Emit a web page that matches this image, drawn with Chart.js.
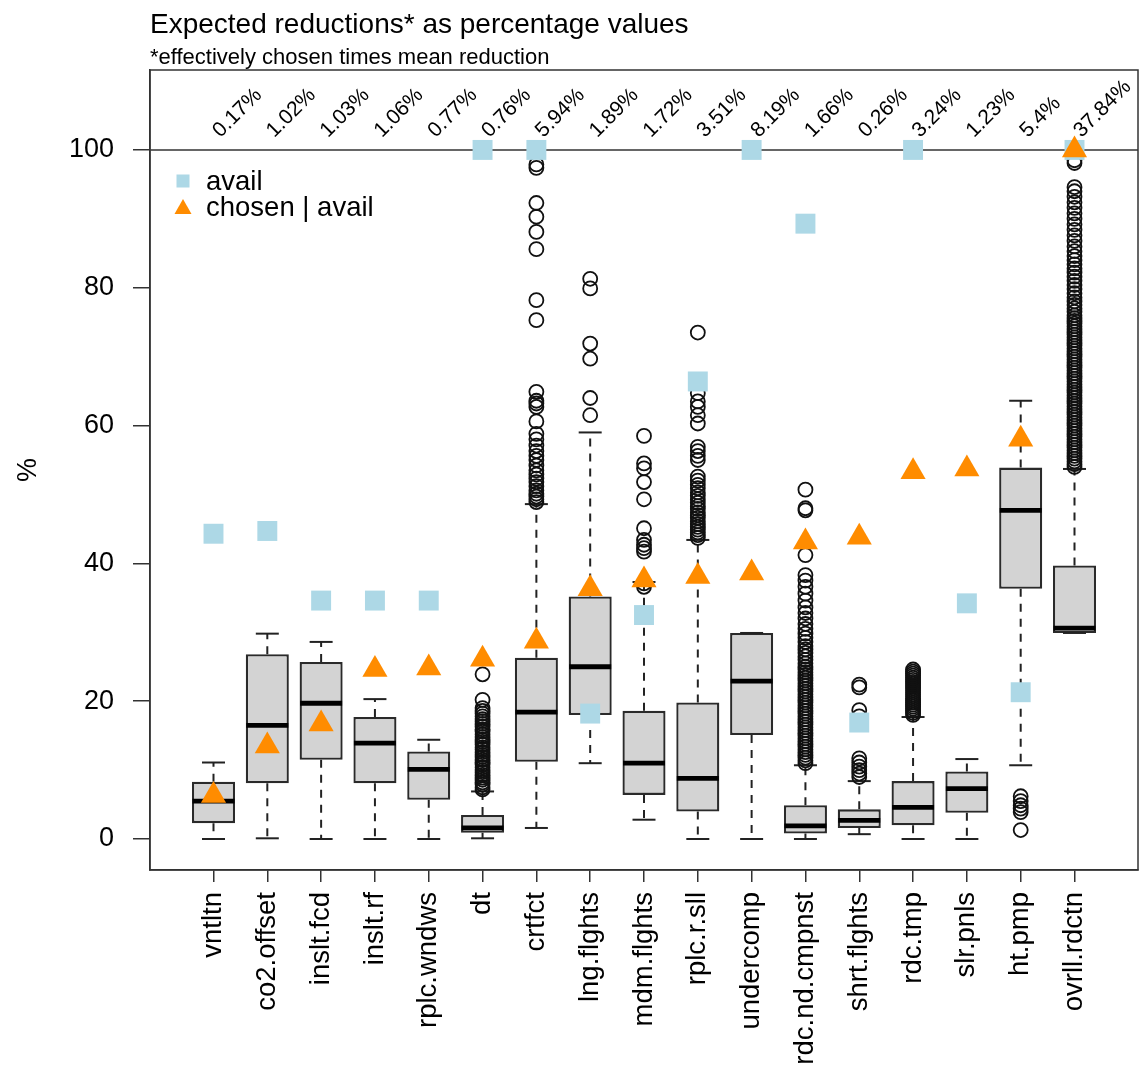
<!DOCTYPE html>
<html>
<head>
<meta charset="utf-8">
<script src="https://cdn.jsdelivr.net/npm/chart.js@4.4.1/dist/chart.umd.min.js"></script>
<style>
  html, body { margin: 0; padding: 0; background: #fff; overflow: hidden; }
  #wrap { width: 1144px; height: 1081px; position: relative; }
  #chart { display: block; }
</style>
</head>
<body>
<div id="wrap"><canvas id="chart"></canvas></div>
<script>
// DATA
const categories = ["vntltn", "co2.offset", "inslt.fcd", "inslt.rf", "rplc.wndws", "dt", "crtfct",
  "lng.flghts", "mdm.flghts", "rplc.r.sll", "undercomp", "rdc.nd.cmpnst", "shrt.flghts",
  "rdc.tmp", "slr.pnls", "ht.pmp", "ovrll.rdctn"];

const whiskLo = [0, 0.1, 0, 0, 0, 0.1, 1.6, 11.0, 2.8, 0, 0, 0, 0.7, 0, 0, 10.7, 29.9];
const q1      = [2.3, 8.1, 11.5, 8.1, 5.7, 0.9, 11.2, 18.0, 6.4, 4.0, 15.1, 0.8, 1.6, 2.0, 3.8, 36.3, 29.9];
const median  = [5.5, 16.5, 19.7, 13.9, 10.1, 1.6, 18.4, 25.0, 11.0, 8.8, 22.9, 1.9, 2.7, 4.6, 7.3, 47.7, 30.6];
const q3      = [8.3, 26.8, 25.7, 17.7, 12.7, 3.5, 26.3, 35.2, 18.6, 19.8, 29.9, 4.9, 4.3, 8.4, 9.8, 53.9, 39.7];
const whiskHi = [11.1, 29.8, 28.6, 20.3, 14.4, 6.9, 48.6, 59.0, 37.3, 43.4, 29.9, 10.7, 8.4, 17.7, 11.6, 63.6, 53.7];

const outliers = [
  [], [], [], [], [],
  [7.2, 7.5, 7.9, 8.2, 8.6, 8.9, 9.3, 9.7, 10.0, 10.4, 10.8, 11.1, 11.5, 11.9, 12.2, 12.6, 13.0, 13.3,
   13.7, 14.1, 14.4, 14.8, 15.2, 15.6, 15.9, 16.3, 16.7, 17.1, 17.4, 17.8, 18.2, 18.6, 19.0, 20.2, 23.9],
  [48.9, 49.3, 49.7, 50.1, 50.6, 51.2, 51.8, 52.3, 52.9, 53.5, 54.2, 55.0, 55.6, 56.3, 57.1, 58.0, 58.8,
   60.6, 62.7, 63.2, 63.6, 64.9, 75.3, 78.2, 85.6, 88.1, 90.3, 92.3, 97.4, 97.9],
  [61.5, 64.0, 69.7, 71.9, 79.9, 81.3],
  [36.6, 37.1, 41.7, 42.2, 42.7, 43.4, 45.1, 49.3, 51.8, 53.8, 54.5, 58.5],
  [43.7, 44.1, 44.5, 44.9, 45.3, 45.7, 46.1, 46.6, 47.0, 47.4, 47.9, 48.3, 48.8, 49.3, 49.8, 50.3, 50.9,
   51.4, 52.0, 52.6, 55.0, 55.6, 56.3, 56.9, 60.3, 61.5, 62.7, 63.5, 64.7, 73.5],
  [],
  [11.0, 11.4, 11.8, 12.2, 12.6, 13.0, 13.4, 13.8, 14.2, 14.6, 15.0, 15.4, 15.8, 16.2, 16.6, 17.0, 17.4,
   17.8, 18.2, 18.6, 19.0, 19.4, 19.8, 20.2, 20.6, 21.0, 21.4, 21.8, 22.2, 22.6, 23.0, 23.4, 23.8, 24.2,
   24.6, 25.0, 25.5, 26.0, 26.5, 27.0, 27.5, 28.0, 28.6, 29.2, 29.8, 30.5, 31.2, 32.0, 32.8, 33.6, 34.6,
   35.6, 36.6, 37.5, 38.3, 41.2, 47.7, 48.0, 50.7],
  [9.0, 9.5, 10.0, 10.5, 11.1, 11.7, 17.8, 18.7, 22.0, 22.4],
  [18.0, 18.3, 18.6, 18.9, 19.2, 19.5, 19.8, 20.1, 20.4, 20.7, 21.0, 21.3, 21.6, 21.9, 22.2, 22.5, 22.8,
   23.1, 23.4, 23.7, 24.0, 24.3, 24.6],
  [],
  [1.3, 3.9, 4.4, 4.9, 5.5, 6.2],
  [54.0, 54.4, 54.8, 55.2, 55.6, 56.0, 56.4, 56.8, 57.2, 57.6, 58.0, 58.4, 58.8, 59.2, 59.6, 60.0, 60.4,
   60.8, 61.2, 61.6, 62.0, 62.4, 62.8, 63.2, 63.6, 64.0, 64.4, 64.8, 65.2, 65.6, 66.0, 66.4, 66.8, 67.2,
   67.6, 68.0, 68.4, 68.8, 69.2, 69.6, 70.0, 70.4, 70.8, 71.2, 71.6, 72.0, 72.4, 72.8, 73.2, 73.6, 74.0,
   74.4, 74.8, 75.2, 75.6, 76.0, 76.5, 77.0, 77.5, 78.0, 78.6, 79.2, 79.8, 80.4, 81.0, 81.6, 82.2, 82.8,
   83.4, 84.0, 84.6, 85.3, 86.0, 86.8, 87.6, 88.4, 89.2, 90.0, 90.8, 91.6, 92.4, 93.2, 94.0, 94.6, 98.1, 98.5]
];

const avail  = [44.3, 44.7, 34.6, 34.6, 34.6, 100, 100, 18.2, 32.5, 66.4, 100, 89.3, 16.9, 100, 34.2, 21.3, 100];
const chosen = [6.3, 13.5, 16.7, 24.6, 24.8, 26.1, 28.7, 36.3, 37.6, 38.1, 38.6, 43.1, 43.8, 53.3, 53.7, 58.0, 100];

const effLabels = ["0.17%", "1.02%", "1.03%", "1.06%", "0.77%", "0.76%", "5.94%", "1.89%", "1.72%",
  "3.51%", "8.19%", "1.66%", "0.26%", "3.24%", "1.23%", "5.4%", "37.84%"];

const yTicks = [0, 20, 40, 60, 80, 100];
const refValue = 100;
const labelValue = 101.7;

// axis ranges like R (4% extension)
const xMin = -0.18, xMax = 18.18;
const yMin = -4.5, yMax = 111.6;

const FONT = "'Liberation Sans', Arial, sans-serif";
Chart.defaults.font.family = FONT;
Chart.defaults.color = "#000";

// build datasets
const pos = i => i + 1;
const boxData = categories.map((c, i) => ({ x: pos(i), y: [q1[i], q3[i]] }));
const medData = categories.map((c, i) => ({ x: pos(i), y: median[i] }));
const capData = [];
const whiskData = [];
categories.forEach((c, i) => {
  capData.push({ x: pos(i), y: whiskHi[i] }, { x: pos(i), y: whiskLo[i] });
  whiskData.push(
    { x: pos(i), y: q3[i] }, { x: pos(i), y: whiskHi[i] }, { x: pos(i), y: null },
    { x: pos(i), y: q1[i] }, { x: pos(i), y: whiskLo[i] }, { x: pos(i), y: null }
  );
});
const outData = [];
outliers.forEach((arr, i) => arr.forEach(v => outData.push({ x: pos(i), y: v })));
const availData = avail.map((v, i) => ({ x: pos(i), y: v }));
const chosenData = chosen.map((v, i) => ({ x: pos(i), y: v }));

// text, legend and frame
const decorPlugin = {
  id: "decor",
  afterDatasetsDraw(chart) {
    const { ctx, chartArea, scales } = chart;
    // percentage labels above columns
    ctx.save();
    ctx.beginPath();
    ctx.rect(chartArea.left, chartArea.top, chartArea.right - chartArea.left, chartArea.bottom - chartArea.top);
    ctx.clip();
    ctx.font = "21px " + FONT;
    ctx.fillStyle = "#000";
    ctx.textAlign = "left";
    ctx.textBaseline = "alphabetic";
    effLabels.forEach((t, i) => {
      const px = scales.x.getPixelForValue(pos(i)) + 7;
      const py = scales.y.getPixelForValue(labelValue);
      ctx.save();
      ctx.translate(px, py);
      ctx.rotate(-Math.PI / 4);
      ctx.fillText(t, 0, 0);
      ctx.restore();
    });
    ctx.restore();

    // legend
    ctx.save();
    ctx.fillStyle = "#add8e6";
    ctx.fillRect(176.5, 174.5, 13, 13);
    ctx.fillStyle = "#ff8c00";
    ctx.beginPath();
    ctx.moveTo(183, 199);
    ctx.lineTo(191.5, 214);
    ctx.lineTo(174.5, 214);
    ctx.closePath();
    ctx.fill();
    ctx.fillStyle = "#000";
    ctx.font = "27.5px " + FONT;
    ctx.fillText("avail", 206, 190);
    ctx.fillText("chosen | avail", 206, 216);
    ctx.restore();
  },
  afterDraw(chart) {
    const { ctx, chartArea } = chart;
    ctx.save();
    ctx.strokeStyle = "#333";
    ctx.lineWidth = 1.5;
    ctx.strokeRect(chartArea.left, chartArea.top, chartArea.right - chartArea.left, chartArea.bottom - chartArea.top);
    ctx.fillStyle = "#000";
    ctx.textAlign = "left";
    ctx.font = "28px " + FONT;
    ctx.fillText("Expected reductions* as percentage values", chartArea.left, 33);
    ctx.font = "22px " + FONT;
    ctx.fillText("*effectively chosen times mean reduction", chartArea.left, 64);
    ctx.restore();
  }
};

new Chart(document.getElementById("chart"), {
  type: "bar",
  data: {
    datasets: [
      {
        type: "scatter", label: "chosen | avail", data: chosenData, order: 0,
        pointStyle: "triangle", pointRadius: 14.5, backgroundColor: "#ff8c00", borderWidth: 0
      },
      {
        type: "scatter", label: "avail", data: availData, order: 1,
        pointStyle: "rect", pointRadius: 14.1, backgroundColor: "#add8e6", borderWidth: 0
      },
      {
        type: "line", label: "ref", data: [{ x: xMin, y: refValue }, { x: xMax, y: refValue }], order: 2,
        borderColor: "#666", borderWidth: 2, pointRadius: 0
      },
      {
        type: "scatter", label: "outliers", data: outData, order: 3,
        pointStyle: "circle", pointRadius: 7, borderWidth: 1.8,
        borderColor: "#111", backgroundColor: "rgba(0,0,0,0)"
      },
      {
        type: "scatter", label: "median", data: medData, order: 4,
        pointStyle: "line", pointRadius: 21, borderWidth: 4.8, borderColor: "#000"
      },
      {
        type: "scatter", label: "caps", data: capData, order: 5,
        pointStyle: "line", pointRadius: 11.5, borderWidth: 2, borderColor: "#222"
      },
      {
        type: "line", label: "whiskers", data: whiskData, order: 6,
        borderColor: "#222", borderWidth: 2, borderDash: [8, 7], pointRadius: 0, spanGaps: false
      },
      {
        type: "bar", label: "box", data: boxData, order: 7,
        backgroundColor: "#d3d3d3", borderColor: "#2a2a2a", borderWidth: 2.3, borderSkipped: false,
        barPercentage: 0.8, categoryPercentage: 1, grouped: false
      }
    ]
  },
  options: {
    responsive: true,
    maintainAspectRatio: false,
    animation: false,
    layout: { autoPadding: false, padding: { left: 0, right: 6, top: 70, bottom: 0 } },
    plugins: { legend: { display: false }, tooltip: { enabled: false }, title: { display: false } },
    scales: {
      x: {
        type: "linear", min: xMin, max: xMax, offset: false,
        afterFit: s => { s.height = 211; s.paddingLeft = 0; s.paddingRight = 0; },
        afterBuildTicks: s => { s.ticks = categories.map((c, i) => ({ value: pos(i) })); },
        ticks: {
          autoSkip: false, minRotation: 90, maxRotation: 90, padding: 10,
          font: { size: 27.5 }, color: "#000",
          callback: v => categories[v - 1]
        },
        grid: { offset: false, drawOnChartArea: false, drawTicks: true, tickLength: 12, color: "#333", lineWidth: 1.5 },
        border: { display: true, color: "#333", width: 1.5 }
      },
      y: {
        min: yMin, max: yMax, beginAtZero: false,
        afterFit: s => { s.width = 150; s.paddingTop = 0; s.paddingBottom = 0; },
        afterBuildTicks: s => { s.ticks = yTicks.map(v => ({ value: v })); },
        ticks: { padding: 19, font: { size: 27 }, color: "#000" },
        grid: { drawOnChartArea: false, drawTicks: true, tickLength: 17, color: "#333", lineWidth: 1.5 },
        border: { display: true, color: "#333", width: 1.5 },
        title: { display: true, text: "%", font: { size: 27 }, padding: { top: 12, bottom: 0 }, color: "#000" }
      }
    }
  },
  plugins: [decorPlugin]
});
</script>
</body>
</html>
